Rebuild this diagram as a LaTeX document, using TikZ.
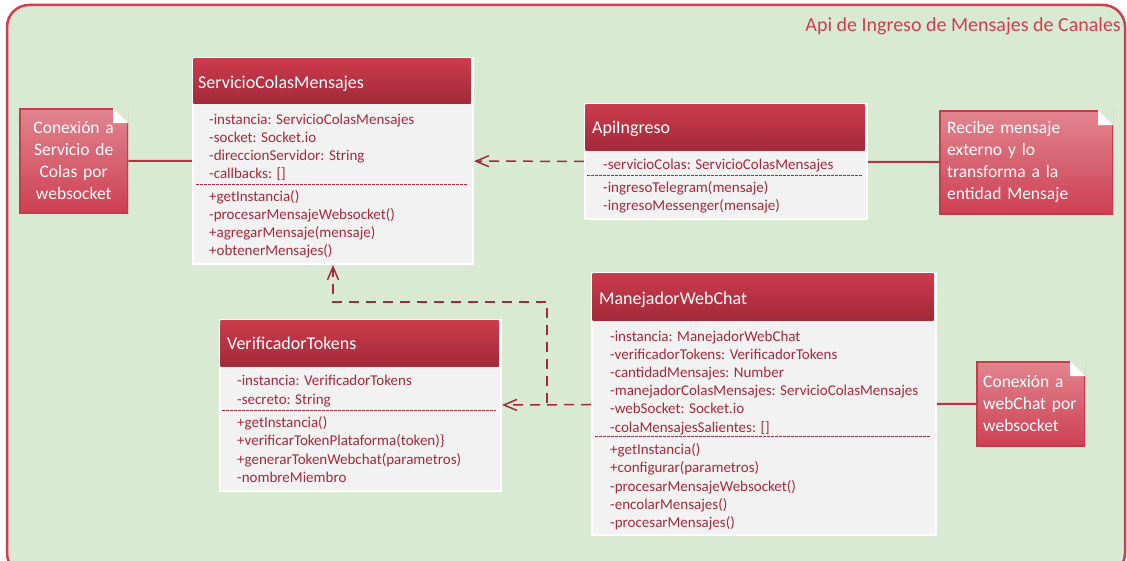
\documentclass[tikz,border=0pt]{standalone}
\usepackage{fontspec}
\setmainfont{Carlito}
\usetikzlibrary{arrows.meta,calc}

\definecolor{bgGreen}{HTML}{D9EAD3}
\definecolor{frameRed}{HTML}{D13E4F}
\definecolor{headTop}{HTML}{CC3B4C}
\definecolor{headBot}{HTML}{A12A3A}
\definecolor{bodyGrey}{HTML}{F2F2F2}
\definecolor{memberRed}{HTML}{A6293C}
\definecolor{noteTop}{HTML}{E1858F}
\definecolor{noteBot}{HTML}{CD4053}
\definecolor{noteEdge}{HTML}{C73A4C}
\definecolor{linkRed}{HTML}{B83243}
\definecolor{depRed}{HTML}{A32A3A}

\tikzset{
  frame/.style={draw=frameRed, line width=2.5pt, fill=bgGreen, rounded corners=22pt},
  frametitle/.style={text=frameRed, font=\fontsize{20}{24}\selectfont, inner sep=0pt, anchor=mid east, yshift=-4pt},
  classbody/.style={draw=white, line width=2pt, fill=bodyGrey, inner sep=0pt, anchor=north west},
  classhead/.style={top color=headTop, bottom color=headBot, draw=none, inner sep=0pt, anchor=north west},
  classtitle/.style={text=white, font=\fontsize{18}{22}\selectfont, inner sep=0pt, anchor=mid west, yshift=-4.5pt},
  member/.style={text=memberRed, font=\fontsize{15}{18}\selectfont, inner sep=0pt, anchor=mid west, yshift=-3.3pt},
  separator/.style={draw=memberRed, line width=0.9pt, dash pattern=on 2.5pt off 1.5pt},
  notebox/.style={anchor=north west, fill=noteBot, draw=none, inner xsep=8pt, inner ysep=0pt,
    text=white, font=\fontsize{17.5}{22}\selectfont,
    path picture={
      \shade[top color=noteTop, bottom color=noteBot]
        (path picture bounding box.south west) rectangle (path picture bounding box.north east);
      \fill[bgGreen] (path picture bounding box.north east) -- ++(-15pt,0pt) -- ++(15pt,-15pt) -- cycle;
      \fill[white] (path picture bounding box.north east) ++(-15pt,0pt) -- ++(0pt,-15pt) -- ++(15pt,0pt) -- cycle;
      \draw[noteEdge, line width=3pt, line join=miter]
        ($(path picture bounding box.north east)+(-15pt,0pt)$)
        -- (path picture bounding box.north west)
        -- (path picture bounding box.south west)
        -- (path picture bounding box.south east)
        -- ($(path picture bounding box.north east)+(0pt,-15pt)$);
    }},
  link/.style={draw=linkRed, line width=2pt},
  dependency/.style={draw=depRed, line width=1.5pt, dash pattern=on 10pt off 7pt,
    -{Straight Barb[length=13pt,width=11pt,line width=1.5pt]}},
}

\begin{document}
\begin{tikzpicture}[x=1pt,y=-1pt]
\useasboundingbox (0,0) rectangle (1127,561);
\clip (0,0) rectangle (1127,561);

% package frame
\draw[frame] (7,5) rectangle (1125,575);
\node[frametitle] (pkg) at (1121,25) {Api de Ingreso de Mensajes de Canales};

% ---- ServicioColasMensajes
\node[classbody, minimum width=280, minimum height=206] (svc) at (192,57) {};
\node[classhead, minimum width=277, minimum height=45] (svcHead) at (193.5,58.5) {};
\node[classtitle] (svcTitle) at (198,81.5) {ServicioColasMensajes};
\foreach \yy/\txt in {118.5/{-instancia: ServicioColasMensajes}, 136.7/{-socket: Socket.io},
  154.5/{-direccionServidor: String}, 172.5/{-callbacks: []},
  195.7/{+getInstancia()}, 213.5/{-procesarMensajeWebsocket()},
  232/{+agregarMensaje(mensaje)}, 250/{+obtenerMensajes()}}
  \node[member] at (209,\yy) {\txt};
\draw[separator] (196,184) -- (468,184);

% ---- ApiIngreso
\node[classbody, minimum width=282, minimum height=115] (api) at (584,103) {};
\node[classhead, minimum width=279, minimum height=46] (apiHead) at (585.5,104.5) {};
\node[classtitle] (apiTitle) at (592,127) {ApiIngreso};
\foreach \yy/\txt in {164/{-servicioColas: ServicioColasMensajes},
  187/{-ingresoTelegram(mensaje)}, 205/{-ingresoMessenger(mensaje)}}
  \node[member] at (603,\yy) {\txt};
\draw[separator] (587,175) -- (862,175);

% ---- VerificadorTokens
\node[classbody, minimum width=281, minimum height=171] (vt) at (219,319) {};
\node[classhead, minimum width=278, minimum height=46] (vtHead) at (220.5,320.5) {};
\node[classtitle] (vtTitle) at (227,343) {VerificadorTokens};
\foreach \yy/\txt in {380/{-instancia: VerificadorTokens}, 399/{-secreto: String},
  422/{+getInstancia()}, 440/{+verificarTokenPlataforma(token)\}},
  459/{+generarTokenWebchat(parametros)}, 477/{-nombreMiembro}}
  \node[member] at (237,\yy) {\txt};
\draw[separator] (222,410) -- (496,410);

% ---- ManejadorWebChat
\node[classbody, minimum width=344, minimum height=262] (mwc) at (591,272) {};
\node[classhead, minimum width=341, minimum height=46.5] (mwcHead) at (592.5,273.5) {};
\node[classtitle] (mwcTitle) at (599,298) {ManejadorWebChat};
\foreach \yy/\txt in {336/{-instancia: ManejadorWebChat}, 353.5/{-verificadorTokens: VerificadorTokens},
  372/{-cantidadMensajes: Number}, 390/{-manejadorColasMensajes: ServicioColasMensajes},
  408/{-webSocket: Socket.io}, 426.5/{-colaMensajesSalientes: []},
  449/{+getInstancia()}, 467/{+configurar(parametros)}, 485.5/{-procesarMensajeWebsocket()},
  503.5/{-encolarMensajes()}, 521.5/{-procesarMensajes()}}
  \node[member] at (610,\yy) {\txt};
\draw[separator] (595,436) -- (931,436);

% ---- notes
\node[notebox, minimum width=109, minimum height=105, text width=93, align=center] (n1) at (19,108)
  {Conexión a\\Servicio de\\Colas por\\websocket};
\node[notebox, minimum width=174, minimum height=104, text width=158, align=left] (n2) at (939,110)
  {Recibe mensaje\\externo y lo\\transforma a la\\entidad Mensaje};
\node[notebox, inner xsep=7pt, minimum width=109, minimum height=85, text width=95, align=left] (n3) at (976,361)
  {Conexión a\\webChat~por\\websocket};

% ---- note attachments
\draw[link] (n1) -- (svc);
\draw[link] (api) -- (n2);
\draw[link] (mwc) -- (n3);

% ---- dependencies
\draw[dependency] (api) -- (svc);
\draw[dependency] (mwc) -- (vt);
\coordinate (branch) at (547,403);
\draw[dependency] (branch) -- (branch |- 0,302) -| (svc.south);
\end{tikzpicture}
\end{document}
